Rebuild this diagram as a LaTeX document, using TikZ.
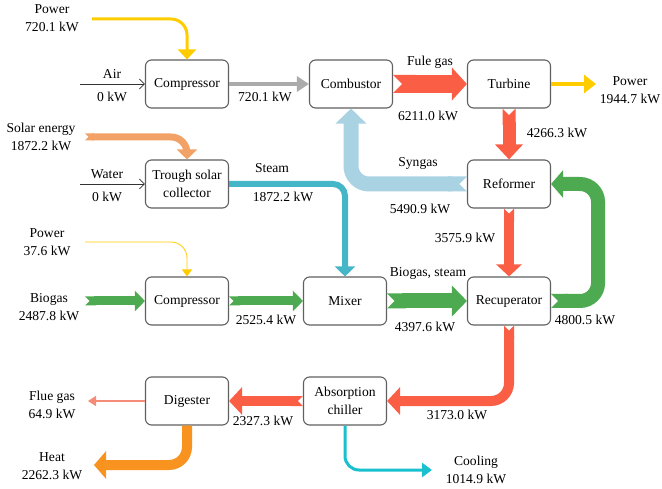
\documentclass[tikz,border=0pt]{standalone}
\usepackage{fontspec}
\setmainfont{Liberation Serif}
\usepackage{tikz}
\usetikzlibrary{arrows.meta}
\definecolor{boxgray}{RGB}{96,96,96}
\definecolor{powery}{RGB}{255,204,0}
\definecolor{gry}{RGB}{171,171,171}
\definecolor{hot}{RGB}{250,95,70}
\definecolor{syn}{RGB}{169,211,227}
\definecolor{steam}{RGB}{69,181,200}
\definecolor{solar}{RGB}{242,162,102}
\definecolor{grn}{RGB}{77,170,80}
\definecolor{heatc}{RGB}{247,147,30}
\definecolor{cool}{RGB}{25,192,206}
\definecolor{flue}{RGB}{245,140,120}

\begin{document}
\begin{tikzpicture}[x=1pt, y=-1pt, font=\fontsize{13.6}{17.5}\selectfont,
    unit/.style={draw=boxgray, line width=1.1pt, rounded corners=6pt, minimum width=83pt, minimum height=48pt, inner sep=0pt, align=center},
    lbl/.style={align=center, inner sep=0pt},
    flow/.style n args={4}{draw=#1, line width=#2, rounded corners=14pt, -{Triangle[width=#3, length=#4]}},
    nflow/.style n args={4}{draw=#1, line width=#2, rounded corners=14pt, {Triangle Cap[reversed]}-{Triangle[width=#3, length=#4]}},
    plain/.style={draw=black!80, line width=0.7pt, -{Straight Barb[length=5pt, width=10pt]}}]
                \useasboundingbox (0,0) rectangle (662,489);
                \node[unit] (Comp) at (187,84) {Compressor};
                \node[unit] (Comb) at (351,84) {Combustor};
                \node[unit] (Turb) at (509,84) {Turbine};
                \node[unit] (Trough) at (187,184) {Trough solar\\collector};
                \node[unit] (Ref) at (509,184) {Reformer};
                \node[unit] (Comp2) at (187,301) {Compressor};
                \node[unit] (Mix) at (345,301) {Mixer};
                \node[unit] (Rec) at (509,301) {Recuperator};
                \node[unit] (Dig) at (187,401) {Digester};
                \node[unit] (Chil) at (345,401) {Absorption\\chiller};

                \node[lbl] (pw1) at (52,18) {Power\\720.1 kW};
                \node[lbl] (sol) at (41,137) {Solar energy\\1872.2 kW};
                \node[lbl] (pw2) at (47,242) {Power\\37.6 kW};
                \node[lbl] (bio) at (49,307) {Biogas\\2487.8 kW};
                \node[lbl] (pw3) at (630,90) {Power\\1944.7 kW};
                \node[lbl] (flu) at (52,405) {Flue gas\\64.9 kW};
                \node[lbl] (heat) at (52,466) {Heat\\2262.3 kW};
                \node[lbl] (cool) at (476,470) {Cooling\\1014.9 kW};

                \node[lbl] (air) at (112,74) {Air};
                \node[lbl] (air0) at (112,97) {0 kW};
                \node[lbl] (wat) at (107,174) {Water};
                \node[lbl] (wat0) at (107,197) {0 kW};
                \node[lbl] (cc) at (265,97) {720.1 kW};
                \node[lbl] (fg) at (430,62) {Fule gas};
                \node[lbl] (fgq) at (428,116) {6211.0 kW};
                \node[lbl] (tr) at (557,133) {4266.3 kW};
                \node[lbl] (sg) at (418,163) {Syngas};
                \node[lbl] (sgq) at (420,209) {5490.9 kW};
                \node[lbl] (st) at (272,168) {Steam};
                \node[lbl] (stq) at (283,197) {1872.2 kW};
                \node[lbl] (cm) at (266,320) {2525.4 kW};
                \node[lbl] (bs) at (428,273) {Biogas, steam};
                \node[lbl] (bsq) at (425,327) {4397.6 kW};
                \node[lbl] (rr) at (585,320) {4800.5 kW};
                \node[lbl] (rf) at (465,238) {3575.9 kW};
                \node[lbl] (rc) at (457,415) {3173.0 kW};
                \node[lbl] (cd) at (263,421) {2327.3 kW};

                \coordinate (pw1s) at (92,19);
                \coordinate (airs) at (80,84);
                \coordinate (sols) at (85,137);
                \coordinate (wats) at (80,184);
                \coordinate (pw2s) at (85,242);
                \coordinate (bios) at (85,301);
                \coordinate (pw3e) at (596,84);
                \coordinate (flue) at (88,401);
                \coordinate (heate) at (94,465);
                \coordinate (coole) at (432,470);

                \draw[flow={powery}{3pt}{18pt}{10pt}, rounded corners=16pt] (pw1s) -| (Comp.north);
                \draw[nflow={solar}{7pt}{20pt}{10pt}, rounded corners=16pt] (sols) -| (Trough.north);
                \draw[flow={powery}{0.8pt}{10pt}{7pt}, rounded corners=16pt] (pw2s) -| (Comp2.north);
                \draw[flow={steam}{6pt}{20pt}{10pt}, rounded corners=12pt] (Trough.east) -| (Mix.north);
                \draw[nflow={syn}{15pt}{30pt}{15pt}, rounded corners=18pt] (Ref.west) -| (Comb.south);
                \draw[nflow={grn}{14pt}{27pt}{12pt}, rounded corners=18pt] (Rec.east) -- ++(47,0) |- (Ref.east);
                \draw[nflow={hot}{10pt}{27pt}{13pt}, rounded corners=18pt] (Rec.south) |- (Chil.east);
                \draw[flow={heatc}{10pt}{27pt}{12pt}, rounded corners=18pt] (Dig.south) |- (heate);
                \draw[flow={cool}{3pt}{14pt}{10pt}, rounded corners=14pt] (Chil.south) |- (coole);
                \path
                    (airs) edge[plain] (Comp)
                    (wats) edge[plain] (Trough)
                    (Comp) edge[flow={gry}{3.5pt}{15pt}{12pt}] (Comb)
                    (Comb) edge[nflow={hot}{18pt}{32pt}{15pt}] (Turb)
                    (Turb) edge[flow={powery}{4pt}{18pt}{12pt}] (pw3e)
                    (Turb) edge[nflow={hot}{13pt}{27pt}{15pt}] (Ref)
                    (bios) edge[nflow={grn}{9pt}{20pt}{10pt}] (Comp2)
                    (Comp2) edge[nflow={grn}{9pt}{20pt}{10pt}] (Mix)
                    (Mix) edge[nflow={grn}{15pt}{30pt}{15pt}] (Rec)
                    (Ref) edge[nflow={hot}{10pt}{25pt}{12pt}] (Rec)
                    (Chil) edge[nflow={hot}{10pt}{27pt}{13pt}] (Dig)
                    (Dig) edge[flow={flue}{1.5pt}{10pt}{8pt}] (flue);
            \end{tikzpicture}
\end{document}
